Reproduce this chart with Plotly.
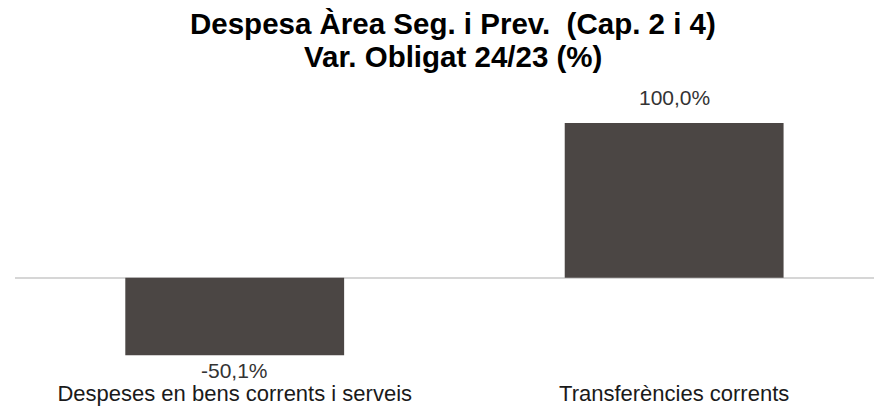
import plotly.graph_objects as go

categories = ["Despeses en bens corrents i serveis", "Transferències corrents"]
values = [-50.1, 100.0]
labels = ["-50,1%", "100,0%"]
title_lines = ["Despesa Àrea Seg. i Prev.\u00a0\u00a0(Cap. 2 i 4)", "Var.\u00a0Obligat 24/23 (%)"]

fig = go.Figure()

fig.add_trace(go.Bar(
    x=categories, y=values,
    marker=dict(color="#4b4644", line=dict(width=0)),
    width=0.498,
    cliponaxis=False,
))

# value labels above / below the bars
for cat, val, lab in zip(categories, values, labels):
    fig.add_annotation(
        x=cat, y=val, text=lab, showarrow=False,
        yanchor="bottom" if val >= 0 else "top",
        yshift=12 if val >= 0 else -2,
        font=dict(size=21, color="#333333", family="Liberation Sans, Arial"),
    )

# two line title, one annotation per line
for line, shift in zip(title_lines, [77, 44]):
    fig.add_annotation(
        xref="paper", yref="paper", x=0.505, y=1.0, yshift=shift,
        xanchor="center", yanchor="middle", showarrow=False,
        text="<b>" + line + "</b>",
        font=dict(size=29.5, color="black", family="Liberation Sans, Arial"),
    )

# page body has an 8px margin, so the figure is 8px smaller than the window
fig.update_layout(
    width=874, height=401,
    paper_bgcolor="white", plot_bgcolor="white",
    margin=dict(l=7, r=0, t=92, b=31, autoexpand=False),
    showlegend=False,
    font=dict(family="Liberation Sans, Arial"),
)

fig.update_xaxes(
    type="category", range=[-0.5, 1.473],
    showline=False, showgrid=False, ticks="",
    tickfont=dict(size=22, color="#1a1a1a"),
    automargin=False,
)
fig.update_yaxes(
    range=[-64.8, 114.9], showgrid=False, showticklabels=False,
    zeroline=True, zerolinecolor="#d6d6d6", zerolinewidth=2,
    automargin=False,
)

fig.write_html("out.html")
